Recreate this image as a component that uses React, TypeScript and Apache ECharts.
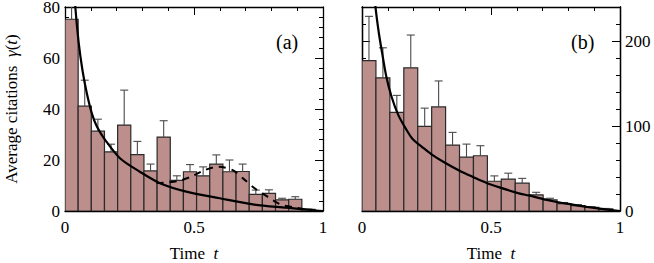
import React, { useEffect, useRef } from "react";
import * as echarts from "echarts";

// ---- data ----
const binWidthA = 0.051;
const binWidthB = 0.054;

const valuesA = [75.2, 41.1, 31.3, 23.2, 33.7, 22.1, 15.7, 29.0, 12.0, 15.4, 13.8, 18.4, 15.4, 15.5, 6.5, 6.9, 4.4, 4.6, 0.6];
const errTopA = [92, 51.3, 36.0, 26.2, 47.4, 27.3, 18.4, 35.4, 13.8, 18.2, 17.3, 22.0, 20.0, 18.4, 8.2, 8.3, 5.0, 5.6, 0.8];

const valuesB = [177, 156.7, 116, 168.5, 99.6, 122.5, 77.6, 63.4, 65, 35, 37.6, 32.7, 18.9, 13, 8.7, 6.3, 4.3, 2.4];
const errTopB = [229, 192, 136, 207, 121, 153, 92.5, 78.7, 76.8, 41.3, 44.5, 38.4, 22, 15, 10, 7.5, 5, 3];

const curveA: [number, number][] = [
  [0.035, 90], [0.04, 80], [0.053, 66], [0.068, 55], [0.085, 46], [0.104, 38.3], [0.124, 33],
  [0.156, 27.8], [0.213, 20.7], [0.29, 15.4], [0.368, 10.9], [0.47, 7.6], [0.6, 5],
  [0.728, 2.6], [0.858, 1.3], [0.974, 0.2], [1.0, 0],
];
const dashedA: [number, number][] = [
  [0.355, 11], [0.38, 11.1], [0.44, 11.8], [0.49, 13.5], [0.54, 16], [0.595, 17.4],
  [0.65, 16], [0.69, 12.8], [0.735, 8.9], [0.785, 5.6], [0.835, 2.6], [0.895, 1.3], [0.95, 0.4],
];
const curveB: [number, number][] = [
  [0.047, 270], [0.052, 241], [0.065, 210], [0.078, 186], [0.094, 158.6], [0.114, 135],
  [0.14, 113.4], [0.172, 95.7], [0.198, 84], [0.23, 76], [0.268, 67], [0.32, 57], [0.38, 47],
  [0.43, 40], [0.483, 33], [0.536, 27.5], [0.612, 20.5], [0.645, 18.3], [0.741, 11.5],
  [0.806, 8], [0.871, 4.8], [0.914, 3], [1.0, 0],
];

const xTicks = ["0", "0.5", "1"];

const FONT = "Liberation Serif, Times New Roman, serif";
const BAR_FILL = "#bc8e8c";
const BAR_STROKE = "#2a2a2a";
const ERR = "#4a4a4a";

function binData(values: number[], errs: number[], w: number) {
  return values.map((v, i) => [i * w, (i + 1) * w, v, errs[i]]);
}

const renderBar = (params: any, api: any) => {
  const x0 = api.value(0), x1 = api.value(1), v = api.value(2), e = api.value(3);
  const p0 = api.coord([x0, 0]);
  const p1 = api.coord([x1, v]);
  const pe = api.coord([(x0 + x1) / 2, e]);
  return {
    type: "group",
    children: [
      { type: "rect", shape: { x: p0[0], y: p1[1], width: p1[0] - p0[0], height: p0[1] - p1[1] },
        style: { fill: BAR_FILL, stroke: BAR_STROKE, lineWidth: 1.2 } },
      { type: "line", shape: { x1: pe[0], y1: p1[1], x2: pe[0], y2: pe[1] },
        style: { stroke: ERR, lineWidth: 1.1 } },
      { type: "line", shape: { x1: pe[0] - 4, y1: pe[1], x2: pe[0] + 4, y2: pe[1] },
        style: { stroke: ERR, lineWidth: 1.1 } },
    ],
  };
};

const lineStyleAxis = { color: "#000", width: 1.3 };

function xAxes(gridIndex: number) {
  const common = {
    type: "value", gridIndex, min: 0, max: 1, interval: 0.5,
    splitLine: { show: false },
    axisLine: { show: true, onZero: false, lineStyle: lineStyleAxis },
    axisTick: { show: true, inside: true, length: 8, lineStyle: { color: "#000", width: 1 } },
    minorTick: { show: true, splitNumber: 5, length: 4, lineStyle: { color: "#000", width: 1 } },
  };
  return [
    {
      ...common, position: "bottom",
      axisLabel: { show: true, margin: 8, fontFamily: FONT, fontSize: 17, color: "#000",
        formatter: (v: number) => (v === 0 ? xTicks[0] : v === 1 ? xTicks[2] : xTicks[1]) },
      name: "Time  {i|t}", nameLocation: "middle", nameGap: 34,
      nameTextStyle: { fontFamily: FONT, fontSize: 17, color: "#000",
        rich: { i: { fontFamily: FONT, fontSize: 17, fontStyle: "italic", color: "#000" } } },
    },
    { ...common, position: "top", axisLabel: { show: false } },
  ];
}

function yAxis(gridIndex: number, position: string, max: number, interval: number, tickLen: number,
  opts: any = {}) {
  return {
    type: "value", gridIndex, position, min: 0, max, interval,
    splitLine: { show: false },
    axisLine: { show: true, onZero: false, lineStyle: lineStyleAxis },
    axisTick: { show: true, inside: true, length: tickLen, lineStyle: { color: "#000", width: 1 } },
    axisLabel: { show: false },
    ...opts,
  };
}

export default function App() {
  const ref = useRef<HTMLDivElement>(null);
  useEffect(() => {
    if (!ref.current) return;
    const chart = echarts.init(ref.current, undefined, { renderer: "svg" });
    const labelStyle = { fontFamily: FONT, fontSize: 17, color: "#000" };
    const option: any = {
      animation: false,
      backgroundColor: "#fff",
      grid: [
        { left: 65, top: 7, width: 258, height: 204, containLabel: false, outerBoundsMode: "none" },
        { left: 362, top: 7, width: 258, height: 204, containLabel: false, outerBoundsMode: "none" },
      ],
      xAxis: [...xAxes(0), ...xAxes(1)],
      yAxis: [
        yAxis(0, "left", 80, 20, 8, {
          minorTick: { show: true, splitNumber: 5, length: 4, lineStyle: { color: "#000", width: 1 } },
          axisLabel: { show: true, margin: 5, ...labelStyle },
          name: "Average citations  {i|γ}({i|t})", nameLocation: "middle", nameGap: 45,
          nameTextStyle: { ...labelStyle, rich: { i: { ...labelStyle, fontStyle: "italic" } } },
        }),
        yAxis(0, "right", 80, 20, 8, {
          minorTick: { show: true, splitNumber: 5, length: 4, lineStyle: { color: "#000", width: 1 } },
        }),
        yAxis(1, "right", 240, 100, 8, {
          axisLabel: { show: true, margin: 5, ...labelStyle,
            formatter: (v: number) => (v % 100 === 0 ? String(v) : "") },
        }),
        yAxis(1, "right", 240, 20, 4),
        yAxis(1, "left", 240, 100, 8),
        yAxis(1, "left", 240, 20, 4),
      ],
      graphic: [
        { type: "text", left: 276, top: 32, style: { text: "(a)", font: `20px ${FONT}`, fill: "#000" } },
        { type: "text", left: 571, top: 32, style: { text: "(b)", font: `20px ${FONT}`, fill: "#000" } },
      ],
      series: [
        {
          type: "custom", xAxisIndex: 0, yAxisIndex: 0, clip: true,
          renderItem: renderBar, data: binData(valuesA, errTopA, binWidthA),
          encode: { x: [0, 1], y: [2, 3] },
        },
        {
          type: "custom", xAxisIndex: 2, yAxisIndex: 2, clip: true,
          renderItem: renderBar, data: binData(valuesB, errTopB, binWidthB),
          encode: { x: [0, 1], y: [2, 3] },
        },
        {
          type: "line", xAxisIndex: 0, yAxisIndex: 0, data: dashedA, smooth: 0.3,
          showSymbol: false, clip: true,
          lineStyle: { color: "#000", width: 2, type: [7, 6] },
        },
        {
          type: "line", xAxisIndex: 0, yAxisIndex: 0, data: curveA, smooth: 0.3,
          showSymbol: false, clip: true, lineStyle: { color: "#000", width: 2.2 },
        },
        {
          type: "line", xAxisIndex: 2, yAxisIndex: 2, data: curveB, smooth: 0.3,
          showSymbol: false, clip: true, lineStyle: { color: "#000", width: 2.2 },
        },
      ],
    };
    chart.setOption(option);
    return () => chart.dispose();
  }, []);
  return (
    <div
      ref={ref}
      style={{ position: "fixed", left: 0, top: 0, width: 654, height: 263, background: "#fff" }}
    />
  );
}
